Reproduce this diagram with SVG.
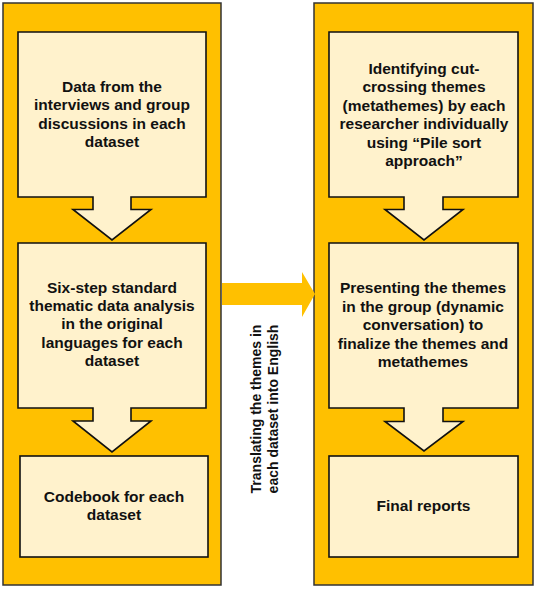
<svg xmlns="http://www.w3.org/2000/svg" width="536" height="589" viewBox="0 0 536 589">
<style>
.panel{fill:#FFC000;stroke:#333;stroke-width:1.5}
.box{fill:#FFF2CC;stroke:#111;stroke-width:1.6}
.t{font-family:"Liberation Sans",Arial,sans-serif;font-weight:bold;font-size:15.5px;fill:#111;text-anchor:middle}
.r{font-family:"Liberation Sans",Arial,sans-serif;font-weight:bold;font-size:14px;fill:#111;text-anchor:middle}
</style>
<rect width="536" height="589" fill="#fff"/>
<g id="panel-left"><rect class="panel" x="3" y="3" width="218" height="582"/></g>
<g id="panel-right"><rect class="panel" x="314" y="3" width="219" height="582"/></g>
<g id="connectors">
<polygon points="222,283 302,283 302,272 315,294 302,317 302,305 222,305" fill="#FFC000"/>
</g>
<g id="translate-label">
<text class="r" transform="translate(261,409) rotate(-90)">Translating the themes in</text>
<text class="r" transform="translate(278,409) rotate(-90)">each dataset into English</text>
</g>
<g id="node-data">
<path class="box" d="M18,32 H206 V197 H131 V209.5 H151 L112,240 L73,209.5 H93 V197 H18 Z"/>
<text class="t" x="112" y="92">Data from the</text>
<text class="t" x="112" y="110.3">interviews and group</text>
<text class="t" x="112" y="128.6">discussions in each</text>
<text class="t" x="112" y="146.9">dataset</text>
</g>
<g id="node-sixstep">
<path class="box" d="M18,243 H206 V408 H131 V421 H151 L112,452 L73,421 H93 V408 H18 Z"/>
<text class="t" x="112" y="292.7">Six-step standard</text>
<text class="t" x="112" y="311">thematic data analysis</text>
<text class="t" x="112" y="329.3">in the original</text>
<text class="t" x="112" y="347.9">languages for each</text>
<text class="t" x="112" y="366.4">dataset</text>
</g>
<g id="node-codebook">
<rect class="box" x="20" y="456" width="188" height="101"/>
<text class="t" x="114" y="501.7">Codebook for each</text>
<text class="t" x="114" y="520">dataset</text>
</g>
<g id="node-identify">
<path class="box" d="M329,32 H518 V197 H443 V209.5 H463 L424,240 L385,209.5 H404 V197 H329 Z"/>
<text class="t" x="424" y="74">Identifying cut-</text>
<text class="t" x="424" y="92.3">crossing themes</text>
<text class="t" x="424" y="110.7">(metathemes) by each</text>
<text class="t" x="424" y="129">researcher individually</text>
<text class="t" x="424" y="147.5">using “Pile sort</text>
<text class="t" x="424" y="165.9">approach”</text>
</g>
<g id="node-present">
<path class="box" d="M329,243 H518 V408 H443 V421.5 H463 L424,451 L385,421.5 H404 V408 H329 Z"/>
<text class="t" x="423" y="292.7">Presenting the themes</text>
<text class="t" x="423" y="311.5">in the group (dynamic</text>
<text class="t" x="423" y="330">conversation) to</text>
<text class="t" x="423" y="348.8">finalize the themes and</text>
<text class="t" x="423" y="367.3">metathemes</text>
</g>
<g id="node-final">
<rect class="box" x="329" y="456" width="189" height="101"/>
<text class="t" x="423.5" y="510.7">Final reports</text>
</g>
</svg>
